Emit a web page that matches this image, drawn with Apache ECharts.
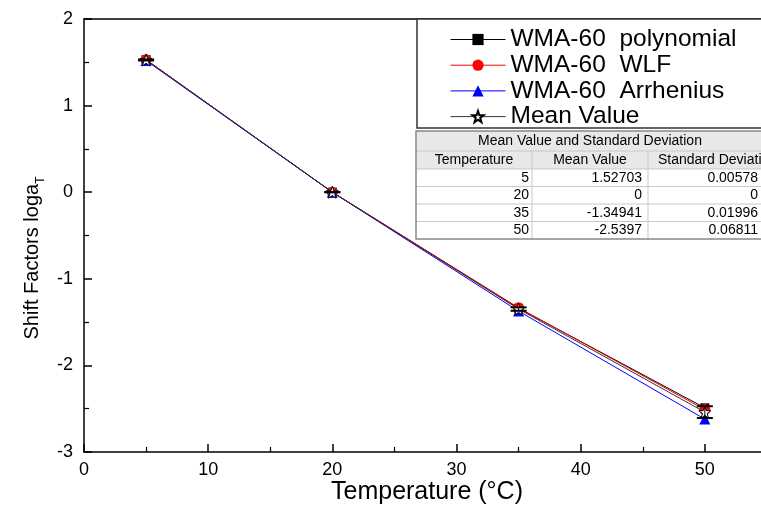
<!DOCTYPE html>
<html>
<head>
<meta charset="utf-8">
<script src="https://cdn.jsdelivr.net/npm/echarts@6/dist/echarts.min.js"></script>
<style>html,body{margin:0;padding:0;background:#fff;overflow:hidden;width:761px;height:506px;}#c{width:850px;height:506px;}</style>
</head>
<body>
<div id="c"></div>
<script>
// ---- data ----
var temperatures = [5, 20, 35, 50];
var polynomial = [1.530, 0, -1.340, -2.490];
var wlf = [1.530, 0, -1.335, -2.510];
var arrhenius = [1.520, 0, -1.373, -2.620];
var meanValue = [1.52703, 0, -1.34941, -2.5397];
var stdDev = [0.00578, 0, 0.01996, 0.06811];
var seriesNames = ['WMA-60  polynomial', 'WMA-60  WLF', 'WMA-60  Arrhenius', 'Mean Value'];
var tableTitle = 'Mean Value and Standard Deviation';
var tableHeaders = ['Temperature', 'Mean Value', 'Standard Deviation'];
var tableTemps = ['5', '20', '35', '50'];
var tableMeans = ['1.52703', '0', '-1.34941', '-2.5397'];
var tableStds = ['0.00578', '0', '0.01996', '0.06811'];
var xTicks = [0, 10, 20, 30, 40, 50, 60];
var yTicks = [-3, -2, -1, 0, 1, 2];

function pairs(vals) { return temperatures.map(function (t, i) { return [t, vals[i]]; }); }

var FONT = 'Liberation Sans, Arial, sans-serif';
var starPath = 'path://M0,-10 L2.35,-3.24 L9.51,-3.09 L3.8,1.24 L5.88,8.09 L0,4 L-5.88,8.09 L-3.8,1.24 L-9.51,-3.09 L-2.35,-3.24 Z';

// ---- legend box + table graphic ----
var tLeft = 416, tTop = 131, colW = [116, 116, 140];
var rowH = [20, 18, 17.5, 17.5, 17.5, 17.5];
var graphics = [];
graphics.push({ type: 'rect', z: 3, shape: { x: 417, y: 19, width: 420, height: 109 }, style: { fill: '#fff', stroke: '#333', lineWidth: 1.5 } });
var y = tTop;
var rowsY = [];
for (var r = 0; r < rowH.length; r++) { rowsY.push(y); y += rowH[r]; }
var tBottom = y;
var tWidth = colW[0] + colW[1] + colW[2];
graphics.push({ type: 'rect', z: 3, shape: { x: tLeft, y: tTop, width: tWidth, height: rowH[0] + rowH[1] }, style: { fill: '#e8e8e8' } });
graphics.push({ type: 'rect', z: 3, shape: { x: tLeft, y: tTop + rowH[0] + rowH[1], width: tWidth, height: tBottom - tTop - rowH[0] - rowH[1] }, style: { fill: '#fff' } });
for (var r2 = 1; r2 < rowH.length; r2++) {
  graphics.push({ type: 'line', z: 4, shape: { x1: tLeft, y1: rowsY[r2], x2: tLeft + tWidth, y2: rowsY[r2] }, style: { stroke: '#c8c8c8', lineWidth: 1 } });
}
var cx = tLeft;
for (var c = 0; c < 2; c++) {
  cx += colW[c];
  graphics.push({ type: 'line', z: 4, shape: { x1: cx, y1: rowsY[1], x2: cx, y2: tBottom }, style: { stroke: '#c8c8c8', lineWidth: 1 } });
}
graphics.push({ type: 'rect', z: 4, shape: { x: tLeft, y: tTop, width: tWidth, height: tBottom - tTop }, style: { fill: 'none', stroke: '#888', lineWidth: 1.5 } });
graphics.push({ type: 'text', z: 5, x: 590, y: tTop + rowH[0] / 2, style: { text: tableTitle, font: '14px ' + FONT, fill: '#000', textAlign: 'center', textVerticalAlign: 'middle' } });
var hdrX = [474, 590, 658];
var hdrAlign = ['center', 'center', 'left'];
for (var h = 0; h < 3; h++) {
  graphics.push({ type: 'text', z: 5, x: hdrX[h], y: rowsY[1] + rowH[1] / 2, style: { text: tableHeaders[h], font: '14px ' + FONT, fill: '#000', textAlign: hdrAlign[h], textVerticalAlign: 'middle' } });
}
var colRight = [529, 642, 758];
var cols = [tableTemps, tableMeans, tableStds];
for (var d = 0; d < tableTemps.length; d++) {
  for (var k = 0; k < 3; k++) {
    graphics.push({ type: 'text', z: 5, x: colRight[k], y: rowsY[d + 2] + rowH[d + 2] / 2, style: { text: cols[k][d], font: '14px ' + FONT, fill: '#000', textAlign: 'right', textVerticalAlign: 'middle' } });
  }
}
// axis titles
graphics.push({ type: 'text', z: 5, x: 427, y: 492, style: { text: 'Temperature (°C)', font: '25px ' + FONT, fill: '#000', textAlign: 'center', textVerticalAlign: 'middle' } });
graphics.push({ type: 'text', z: 5, x: 32, y: 258, rotation: Math.PI / 2, style: {
  text: '{a|Shift Factors loga}{b|T}', textAlign: 'center', textVerticalAlign: 'middle',
  rich: { a: { fontSize: 20, fontFamily: FONT, fill: '#000', lineHeight: 30 }, b: { fontSize: 12, fontFamily: FONT, fill: '#000', verticalAlign: 'bottom', lineHeight: 30 } }
} });

var chart = echarts.init(document.getElementById('c'), null, { renderer: 'canvas' });
chart.setOption({
  animation: false,
  backgroundColor: '#fff',
  grid: { left: 84, right: 21, top: 19, bottom: 54, show: false },
  xAxis: [{
    type: 'value', min: xTicks[0], max: xTicks[xTicks.length - 1], interval: 10,
    axisLine: { onZero: false, lineStyle: { color: '#000', width: 1.5 } },
    axisTick: { inside: true, length: 8, lineStyle: { color: '#000', width: 1.5 } },
    minorTick: { show: true, splitNumber: 2, length: 5, lineStyle: { color: '#000', width: 1.2 } },
    splitLine: { show: false },
    axisLabel: { color: '#000', fontSize: 18, fontFamily: FONT, margin: 9 }
  }, {
    type: 'value', position: 'top', min: xTicks[0], max: xTicks[xTicks.length - 1], interval: 10,
    axisLine: { onZero: false, lineStyle: { color: '#000', width: 1.5 } },
    axisTick: { show: false }, axisLabel: { show: false }, splitLine: { show: false }
  }],
  yAxis: {
    type: 'value', min: yTicks[0], max: yTicks[yTicks.length - 1], interval: 1,
    axisLine: { show: true, onZero: false, lineStyle: { color: '#000', width: 1.5 } },
    axisTick: { show: true, inside: true, length: 8, lineStyle: { color: '#000', width: 1.5 } },
    minorTick: { show: true, splitNumber: 2, length: 5, lineStyle: { color: '#000', width: 1.2 } },
    splitLine: { show: false },
    axisLabel: { color: '#000', fontSize: 18, fontFamily: FONT, margin: 11 }
  },
  legend: {
    orient: 'vertical', left: 450, top: 27, padding: 0, itemGap: 0.7,
    itemWidth: 55, itemHeight: 14,
    data: seriesNames,
    lineStyle: { width: 1 },
    textStyle: { fontSize: 24.5, fontFamily: FONT, color: '#000', lineHeight: 23 },
    z: 6
  },
  graphic: graphics,
  series: [
    { name: seriesNames[0], type: 'line', data: pairs(polynomial), symbol: 'rect', symbolSize: 9,
      lineStyle: { color: '#000', width: 1 }, itemStyle: { color: '#000' }, z: 2 },
    { name: seriesNames[1], type: 'line', data: pairs(wlf), symbol: 'circle', symbolSize: 11,
      lineStyle: { color: '#ff0000', width: 1 }, itemStyle: { color: '#ff0000' }, z: 2 },
    { name: seriesNames[2], type: 'line', data: pairs(arrhenius), symbol: 'triangle', symbolSize: 11,
      lineStyle: { color: '#0000ff', width: 1 }, itemStyle: { color: '#0000ff' }, z: 2 },
    { name: seriesNames[3], type: 'line', data: pairs(meanValue), symbol: starPath, symbolSize: 12,
      lineStyle: { color: '#333', width: 1 }, itemStyle: { color: '#fff', borderColor: '#000', borderWidth: 1 }, z: 3 },
    { name: 'err', type: 'custom', z: 4, silent: true,
      data: temperatures.map(function (t, i) { return [t, meanValue[i], stdDev[i]]; }),
      renderItem: function (params, api) {
        var x = api.value(0), m = api.value(1), s = api.value(2);
        var top = api.coord([x, m + s]), bot = api.coord([x, m - s]);
        var hw = 8;
        return { type: 'group', children: [
          { type: 'line', shape: { x1: top[0], y1: top[1], x2: bot[0], y2: bot[1] }, style: { stroke: '#000', lineWidth: 1 } },
          { type: 'line', shape: { x1: top[0] - hw, y1: top[1], x2: top[0] + hw, y2: top[1] }, style: { stroke: '#000', lineWidth: 2 } },
          { type: 'line', shape: { x1: bot[0] - hw, y1: bot[1], x2: bot[0] + hw, y2: bot[1] }, style: { stroke: '#000', lineWidth: 2 } }
        ] };
      }
    }
  ]
});
</script>
</body>
</html>
